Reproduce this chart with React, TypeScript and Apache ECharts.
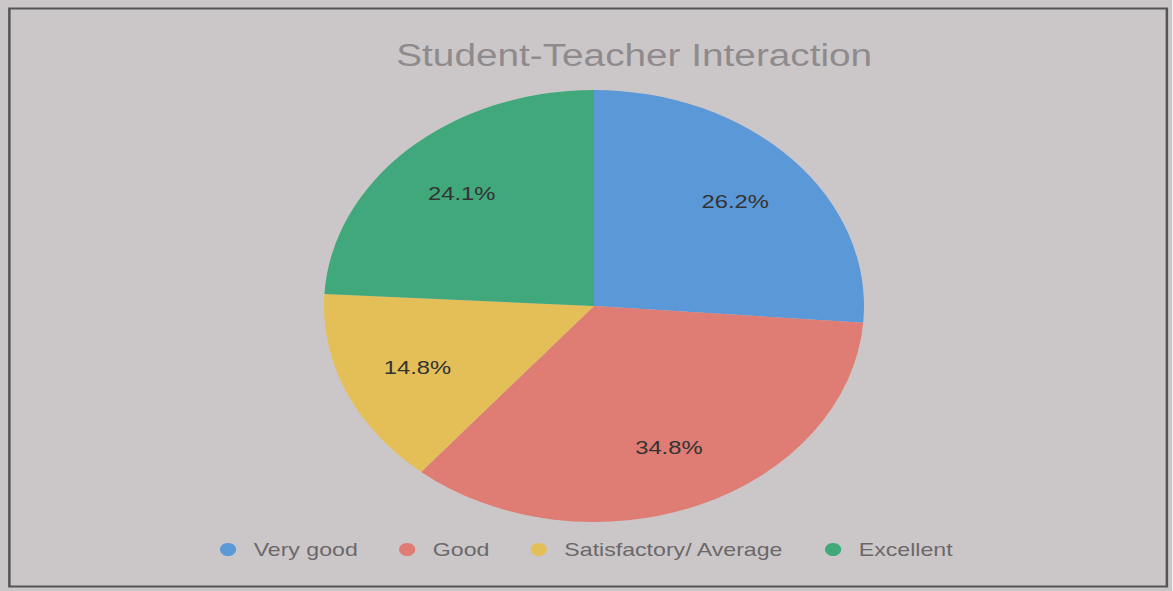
import React, { useEffect, useRef } from "react";
import * as echarts from "echarts";

const categories = ["Very good", "Good", "Satisfactory/ Average", "Excellent"];
const values = [26.2, 34.8, 14.8, 24.1];
const colors = ["#5b98d8", "#df7c73", "#e4bf58", "#40a87b"];

// The reference photo is stretched horizontally by ~1.25, so the chart is drawn
// at 938px and scaled to the 1173px window.
const STRETCH = 1.25;
const W = Math.round(1173 / STRETCH);

export default function App() {
  const ref = useRef<HTMLDivElement>(null);
  useEffect(() => {
    const chart = echarts.init(ref.current!, null, { renderer: "svg" });
    const data = categories.map((name, i) => ({ name, value: values[i] }));
    const cx = 594 / STRETCH;
    chart.setOption({
      animation: false,
      backgroundColor: "#cbc7c9",
      color: colors,
      title: {
        text: "Student-Teacher Interaction",
        left: Math.round(396 / STRETCH) - 5,
        top: 34,
        textStyle: {
          fontFamily: "Liberation Sans, Arial, sans-serif",
          fontSize: 31,
          fontWeight: "normal",
          color: "#8f8b8d",
        },
      },
      legend: {
        bottom: 27,
        left: "center",
        icon: "circle",
        itemWidth: 13,
        itemHeight: 14,
        itemGap: 33,
        textStyle: {
          fontFamily: "Liberation Sans, Arial, sans-serif",
          fontSize: 18.5,
          color: "#6b686a",
          padding: [0, 0, 0, 9],
        },
        data: categories,
      },
      graphic: [
        {
          type: "rect",
          left: 5,
          top: 6,
          shape: { width: W - 12, height: 578 },
          style: { fill: "none", stroke: "#555", lineWidth: 2 },
          silent: true,
        },
      ],
      series: [
        {
          type: "pie",
          center: [cx, 306],
          radius: [0, 216],
          startAngle: 90,
          clockwise: true,
          label: { show: false },
          labelLine: { show: false },
          itemStyle: { borderWidth: 0 },
          data,
        },
        {
          type: "pie",
          center: [cx, 306],
          radius: [86, 216],
          startAngle: 90,
          clockwise: true,
          silent: true,
          legendHoverLink: false,
          itemStyle: { color: "rgba(0,0,0,0)" },
          label: {
            show: true,
            position: "inside",
            formatter: (p: any) => p.value.toFixed(1) + "%",
            fontFamily: "Liberation Sans, Arial, sans-serif",
            fontSize: 19,
            color: "#333",
          },
          labelLine: { show: false },
          data,
        },
      ],
    });
    return () => chart.dispose();
  }, []);
  return (
    <div
      ref={ref}
      style={{
        width: W,
        height: 591,
        position: "absolute",
        left: 0,
        top: 0,
        transform: `scaleX(${STRETCH})`,
        transformOrigin: "0 0",
      }}
    />
  );
}
